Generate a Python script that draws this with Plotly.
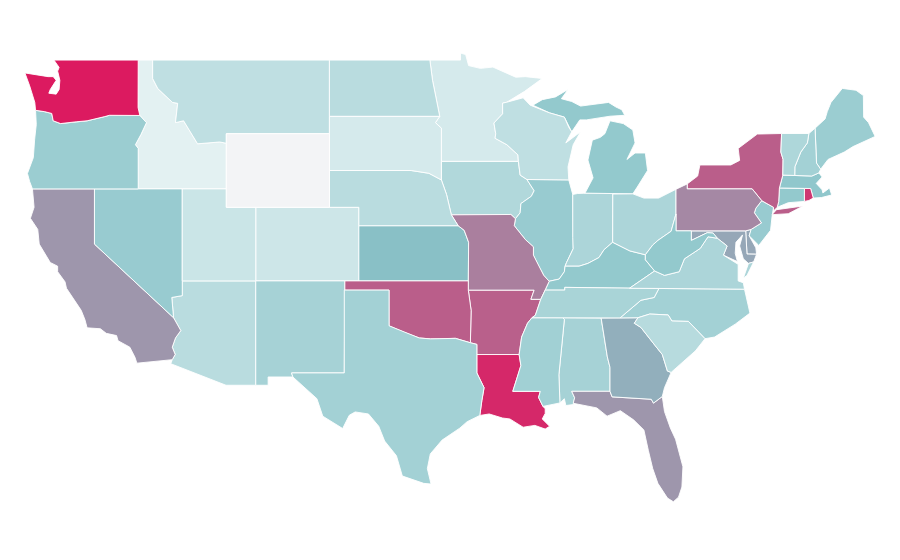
import plotly.graph_objects as go
from plotly.colors import sample_colorscale

states = ["AL","AR","AZ","CA","CO","CT","DC","DE","FL","GA","IA","ID","IL","IN","KS","KY","LA","MA","MD","ME",
          "MI","MN","MO","MS","MT","NC","ND","NE","NH","NJ","NM","NV","NY","OH","OK","OR","PA","RI","SC","SD",
          "TN","TX","UT","VA","VT","WA","WI","WV","WY"]
values = [29,75,22,56,15,36,50,50,56,47,25,7,34,27,41,36,95,37,50,33,
          36,12,64,31,20,30,22,22,30,34,29,34,76,27,76,33,61,90,23,12,
          28,30,16,27,26,100,20,36,0]

colorscale = [[0, "#f3f4f6"], [0.05, "#e8f4f5"], [0.4, "#88c3c8"], [1, "#dc1a60"]]

# plotly's own state map is fetched from a CDN, so simplified outlines (lon, lat) go in here
shapes = {
    "WA": [[(-124.72,48.3),(-123.15,48.1),(-122.8,48.1),(-122.6,47.9),(-123.0,47.4),(-123.1,47.2),(-122.6,47.15),(-122.4,47.4),(-122.35,47.9),(-122.5,48.4),(-122.4,48.6),(-122.75,49.0),(-117.03,49.0),(-117.04,46.42),(-116.92,45.99),(-118.98,46.0),(-119.3,45.93),(-120.5,45.7),(-121.2,45.65),(-122.3,45.55),(-122.8,45.7),(-122.9,46.1),(-123.4,46.2),(-124.0,46.27),(-124.05,46.7),(-124.15,47.0),(-124.4,47.6)]],
    "OR": [[(-124.0,46.27),(-123.4,46.2),(-122.9,46.1),(-122.8,45.7),(-122.3,45.55),(-121.2,45.65),(-120.5,45.7),(-119.3,45.93),(-118.98,46.0),(-116.92,45.99),(-116.47,45.6),(-116.85,44.95),(-117.22,44.4),(-117.03,44.2),(-117.03,42.0),(-124.21,42.0),(-124.4,42.4),(-124.55,42.84),(-124.15,43.7),(-124.06,44.7),(-123.95,45.5)]],
    "CA": [[(-124.21,42.0),(-120.0,42.0),(-120.0,39.0),(-114.63,35.0),(-114.14,34.3),(-114.5,33.9),(-114.72,33.4),(-114.52,33.0),(-114.72,32.72),(-117.12,32.53),(-117.25,32.85),(-117.6,33.4),(-118.4,33.75),(-118.5,34.03),(-119.2,34.15),(-119.6,34.4),(-120.5,34.45),(-120.65,34.9),(-120.9,35.4),(-121.9,36.6),(-122.0,36.95),(-122.5,37.5),(-122.5,37.8),(-123.0,38.0),(-123.75,39.0),(-123.85,39.8),(-124.35,40.4),(-124.1,41.0)]],
    "NV": [[(-120.0,42.0),(-114.04,42.0),(-114.04,36.2),(-114.75,36.1),(-114.63,35.0),(-120.0,39.0)]],
    "ID": [[(-117.03,49.0),(-116.05,49.0),(-116.05,48.0),(-115.7,47.45),(-114.7,46.7),(-114.35,46.65),(-114.5,45.6),(-113.95,45.7),(-113.45,45.05),(-113.0,44.45),(-111.5,44.55),(-111.05,44.48),(-111.05,42.0),(-117.03,42.0),(-117.03,44.2),(-117.22,44.4),(-116.85,44.95),(-116.47,45.6),(-116.92,45.99),(-117.04,46.42)]],
    "MT": [[(-116.05,49.0),(-104.05,49.0),(-104.05,45.0),(-111.05,45.0),(-111.05,44.48),(-111.5,44.55),(-113.0,44.45),(-113.45,45.05),(-113.95,45.7),(-114.5,45.6),(-114.35,46.65),(-114.7,46.7),(-115.7,47.45),(-116.05,48.0)]],
    "WY": [[(-111.05,45.0),(-104.05,45.0),(-104.05,41.0),(-111.05,41.0)]],
    "UT": [[(-114.04,42.0),(-111.05,42.0),(-111.05,41.0),(-109.05,41.0),(-109.05,37.0),(-114.04,37.0)]],
    "CO": [[(-109.05,41.0),(-102.05,41.0),(-102.05,37.0),(-109.05,37.0)]],
    "AZ": [[(-114.04,37.0),(-109.05,37.0),(-109.05,31.33),(-111.07,31.33),(-114.82,32.5),(-114.72,32.72),(-114.52,33.0),(-114.72,33.4),(-114.5,33.9),(-114.14,34.3),(-114.63,35.0),(-114.75,36.1),(-114.04,36.2)]],
    "NM": [[(-109.05,37.0),(-103.0,37.0),(-103.04,32.0),(-106.62,32.0),(-106.53,31.78),(-108.21,31.78),(-108.21,31.33),(-109.05,31.33)]],
    "ND": [[(-104.05,49.0),(-97.23,49.0),(-97.05,47.9),(-96.8,46.9),(-96.56,45.94),(-104.05,45.94)]],
    "SD": [[(-104.05,45.94),(-96.56,45.94),(-96.85,45.6),(-96.45,45.3),(-96.45,43.5),(-96.45,42.49),(-97.3,42.85),(-98.5,43.0),(-104.05,43.0)]],
    "NE": [[(-104.05,43.0),(-98.5,43.0),(-97.3,42.85),(-96.45,42.49),(-96.1,41.7),(-95.9,41.0),(-95.77,40.59),(-95.31,40.0),(-102.05,40.0),(-102.05,41.0),(-104.05,41.0)]],
    "KS": [[(-102.05,40.0),(-95.31,40.0),(-94.9,39.75),(-94.6,39.1),(-94.62,37.0),(-102.05,37.0)]],
    "OK": [[(-103.0,37.0),(-94.62,37.0),(-94.62,36.5),(-94.43,35.4),(-94.48,33.64),(-95.5,33.88),(-96.6,33.85),(-97.2,33.85),(-97.95,33.9),(-98.95,34.2),(-100.0,34.56),(-100.0,36.5),(-103.0,36.5)]],
    "TX": [[(-103.04,36.5),(-100.0,36.5),(-100.0,34.56),(-98.95,34.2),(-97.95,33.9),(-97.2,33.85),(-96.6,33.85),(-95.5,33.88),(-94.48,33.64),(-94.04,33.55),(-94.04,32.0),(-93.55,31.2),(-93.7,30.5),(-93.84,29.69),(-94.7,29.35),(-95.2,29.0),(-96.4,28.35),(-97.2,27.6),(-97.4,26.8),(-97.15,25.96),(-97.65,26.0),(-99.1,26.4),(-99.5,27.5),(-100.3,28.3),(-100.7,29.1),(-101.4,29.77),(-102.3,29.88),(-102.7,29.7),(-103.15,28.98),(-104.5,29.65),(-104.9,30.6),(-106.53,31.78),(-106.62,32.0),(-103.04,32.0)]],
    "MN": [[(-97.23,49.0),(-95.15,49.0),(-95.15,49.38),(-94.8,49.3),(-94.6,48.7),(-93.8,48.55),(-92.95,48.62),(-91.4,48.07),(-90.75,48.1),(-89.6,48.0),(-90.8,47.3),(-92.01,46.71),(-92.29,46.66),(-92.29,46.08),(-92.88,45.58),(-92.76,45.0),(-92.8,44.75),(-92.0,44.4),(-91.25,43.85),(-91.22,43.5),(-96.45,43.5),(-96.45,45.3),(-96.85,45.6),(-96.56,45.94),(-96.8,46.9),(-97.05,47.9)]],
    "IA": [[(-96.45,43.5),(-91.22,43.5),(-91.1,42.75),(-90.64,42.51),(-90.15,41.9),(-90.34,41.6),(-91.05,41.2),(-91.1,40.7),(-91.42,40.38),(-91.73,40.61),(-95.77,40.59),(-95.9,41.0),(-96.1,41.7),(-96.45,42.49)]],
    "MO": [[(-95.77,40.59),(-91.73,40.61),(-91.42,40.38),(-91.5,40.0),(-90.75,39.25),(-90.2,38.85),(-90.2,38.4),(-89.9,37.9),(-89.5,37.3),(-89.13,36.98),(-89.4,36.5),(-89.7,36.0),(-90.37,36.0),(-90.15,36.5),(-94.62,36.5),(-94.62,37.0),(-94.6,39.1),(-94.9,39.75),(-95.31,40.0)]],
    "AR": [[(-94.62,36.5),(-90.15,36.5),(-90.37,36.0),(-89.7,36.0),(-90.07,35.13),(-90.3,35.0),(-90.6,34.7),(-91.0,33.95),(-91.17,33.0),(-94.04,33.0),(-94.04,33.55),(-94.48,33.64),(-94.43,35.4)]],
    "LA": [[(-94.04,33.0),(-91.17,33.0),(-91.05,32.4),(-91.6,31.0),(-89.73,31.0),(-89.85,30.67),(-89.55,30.18),(-89.4,30.05),(-89.4,29.8),(-89.6,29.5),(-89.1,29.1),(-89.4,28.95),(-90.1,29.15),(-90.9,29.05),(-91.8,29.5),(-92.3,29.55),(-93.2,29.77),(-93.84,29.69),(-93.7,30.5),(-93.55,31.2),(-94.04,32.0)]],
    "WI": [[(-92.01,46.71),(-90.9,46.95),(-90.42,46.55),(-89.1,46.13),(-88.1,45.9),(-87.8,45.35),(-87.6,45.1),(-88.0,44.5),(-87.0,45.1),(-87.5,44.4),(-87.85,43.2),(-87.8,42.49),(-90.64,42.51),(-91.1,42.75),(-91.22,43.5),(-91.25,43.85),(-92.0,44.4),(-92.8,44.75),(-92.76,45.0),(-92.88,45.58),(-92.29,46.08),(-92.29,46.66)]],
    "IL": [[(-90.64,42.51),(-87.8,42.49),(-87.53,41.7),(-87.53,39.35),(-87.5,38.75),(-87.95,38.0),(-88.05,37.8),(-88.1,37.5),(-88.45,37.1),(-89.13,36.98),(-89.5,37.3),(-89.9,37.9),(-90.2,38.4),(-90.2,38.85),(-90.75,39.25),(-91.5,40.0),(-91.42,40.38),(-91.1,40.7),(-91.05,41.2),(-90.34,41.6),(-90.15,41.9)]],
    "IN": [[(-87.53,41.7),(-87.2,41.75),(-86.82,41.76),(-84.81,41.76),(-84.82,39.1),(-85.4,38.7),(-85.75,38.27),(-86.5,37.95),(-87.1,37.8),(-88.05,37.8),(-87.95,38.0),(-87.5,38.75),(-87.53,39.35)]],
    "OH": [[(-84.81,41.72),(-83.45,41.73),(-82.7,41.5),(-81.7,41.5),(-80.52,41.98),(-80.52,40.64),(-80.85,39.7),(-81.75,39.2),(-82.1,38.95),(-82.6,38.42),(-83.65,38.63),(-84.25,38.85),(-84.82,39.1)]],
    "MI": [[(-86.7,41.77),(-84.81,41.76),(-83.45,41.73),(-83.15,42.1),(-82.45,43.0),(-82.6,43.95),(-83.3,43.95),(-83.85,43.6),(-83.3,44.5),(-83.45,45.2),(-84.1,45.55),(-85.0,45.7),(-85.35,45.0),(-85.66,44.8),(-86.2,44.65),(-86.5,43.57),(-86.15,42.6)],
           [(-90.24,46.55),(-89.1,46.13),(-88.1,45.9),(-87.6,45.1),(-87.05,45.75),(-86.6,45.75),(-85.0,45.95),(-84.0,46.0),(-84.2,46.3),(-84.6,46.45),(-85.1,46.7),(-85.9,46.6),(-87.0,46.5),(-87.6,46.75),(-88.3,46.9),(-87.85,47.4),(-88.7,47.0),(-89.6,46.85)]],
    "KY": [[(-89.13,36.98),(-88.45,37.1),(-88.1,37.5),(-88.05,37.8),(-87.1,37.8),(-86.5,37.95),(-85.75,38.27),(-85.4,38.7),(-84.82,39.1),(-84.25,38.85),(-83.65,38.63),(-82.6,38.42),(-82.6,38.15),(-81.97,37.54),(-83.68,36.6),(-88.07,36.65),(-88.07,36.5),(-89.4,36.5)]],
    "TN": [[(-89.4,36.5),(-88.07,36.5),(-88.07,36.65),(-83.68,36.6),(-81.68,36.59),(-82.0,36.1),(-82.9,35.95),(-84.32,34.99),(-90.3,35.0),(-90.07,35.13),(-89.7,36.0)]],
    "MS": [[(-90.3,35.0),(-88.2,35.0),(-88.1,34.9),(-88.47,31.9),(-88.4,30.37),(-89.55,30.18),(-89.85,30.67),(-89.73,31.0),(-91.6,31.0),(-91.05,32.4),(-91.17,33.0),(-91.0,33.95),(-90.6,34.7)]],
    "AL": [[(-88.2,35.0),(-85.6,34.98),(-85.18,32.87),(-85.0,32.3),(-85.0,31.0),(-87.6,31.0),(-87.4,30.65),(-87.5,30.28),(-88.0,30.23),(-88.1,30.6),(-88.4,30.37),(-88.47,31.9),(-88.1,34.9)]],
    "GA": [[(-85.6,34.98),(-83.1,35.0),(-83.35,34.7),(-82.9,34.47),(-81.95,33.5),(-81.45,33.0),(-81.1,32.1),(-80.85,32.03),(-81.3,31.2),(-81.45,30.72),(-82.05,30.36),(-82.2,30.57),(-84.86,30.7),(-85.0,31.0),(-85.0,32.3),(-85.18,32.87)]],
    "FL": [[(-87.6,31.0),(-85.0,31.0),(-84.86,30.7),(-82.2,30.57),(-82.05,30.36),(-81.45,30.72),(-81.3,29.9),(-80.9,29.0),(-80.55,28.4),(-80.05,26.9),(-80.12,25.8),(-80.35,25.25),(-80.7,25.0),(-81.1,25.2),(-81.75,26.0),(-82.1,26.8),(-82.4,27.8),(-82.7,28.9),(-83.4,29.45),(-84.3,29.95),(-85.2,29.65),(-85.9,30.1),(-87.5,30.35),(-87.4,30.65)]],
    "SC": [[(-83.1,35.0),(-82.3,35.2),(-81.05,35.15),(-80.8,34.82),(-79.68,34.8),(-78.55,33.86),(-79.2,33.2),(-79.9,32.7),(-80.85,32.03),(-81.1,32.1),(-81.45,33.0),(-81.95,33.5),(-82.9,34.47),(-83.35,34.7)]],
    "NC": [[(-84.32,34.99),(-82.9,35.95),(-82.0,36.1),(-81.68,36.59),(-75.87,36.55),(-75.5,35.25),(-76.5,34.65),(-77.9,33.95),(-78.55,33.86),(-79.68,34.8),(-80.8,34.82),(-81.05,35.15),(-82.3,35.2),(-83.1,35.0)]],
    "VA": [[(-83.68,36.6),(-81.97,37.54),(-81.3,37.3),(-80.3,37.5),(-79.95,38.2),(-78.87,38.77),(-78.35,39.4),(-77.72,39.32),(-77.05,38.9),(-77.3,38.4),(-76.3,37.9),(-76.3,37.0),(-75.95,36.9),(-75.87,36.55),(-81.68,36.59)],
           [(-75.95,37.15),(-75.6,37.95),(-75.25,38.03),(-75.7,37.3)]],
    "WV": [[(-82.6,38.42),(-82.1,38.95),(-81.75,39.2),(-80.85,39.7),(-80.52,40.64),(-80.52,39.72),(-79.48,39.72),(-79.48,39.2),(-78.4,39.62),(-78.0,39.6),(-77.72,39.32),(-78.35,39.4),(-78.87,38.77),(-79.95,38.2),(-80.3,37.5),(-81.3,37.3),(-81.97,37.54),(-82.6,38.15)]],
    "MD": [[(-79.48,39.72),(-75.79,39.72),(-75.7,38.46),(-75.05,38.45),(-75.25,38.03),(-75.6,37.95),(-75.95,38.2),(-76.2,38.9),(-76.0,39.5),(-76.45,39.1),(-76.5,38.5),(-76.35,38.05),(-77.3,38.4),(-77.05,38.9),(-77.72,39.32),(-78.0,39.6),(-78.4,39.62),(-79.48,39.2)]],
    "DE": [[(-75.79,39.72),(-75.42,39.8),(-75.55,39.45),(-75.1,38.8),(-75.05,38.45),(-75.7,38.46)]],
    "DC": [[(-77.12,38.93),(-77.04,39.0),(-76.91,38.89),(-77.04,38.79)]],
    "PA": [[(-80.52,41.98),(-79.76,42.27),(-79.76,42.0),(-75.35,42.0),(-74.7,41.36),(-75.1,40.95),(-75.2,40.7),(-74.72,40.15),(-75.42,39.8),(-75.79,39.72),(-80.52,39.72)]],
    "NY": [[(-79.76,42.27),(-79.05,42.7),(-78.9,43.3),(-76.8,43.3),(-76.2,43.55),(-76.3,44.2),(-75.0,44.98),(-73.35,45.01),(-73.4,44.0),(-73.25,43.6),(-73.27,42.75),(-73.5,42.05),(-73.55,41.3),(-73.65,41.0),(-73.9,40.8),(-73.9,41.0),(-74.7,41.36),(-75.35,42.0),(-79.76,42.0)],
           [(-74.0,40.6),(-72.9,40.65),(-71.9,41.07),(-72.6,41.0),(-73.7,40.87)]],
    "NJ": [[(-74.7,41.36),(-73.9,41.0),(-74.0,40.5),(-74.1,39.75),(-74.9,38.93),(-75.55,39.45),(-75.42,39.8),(-74.72,40.15),(-75.2,40.7),(-75.1,40.95)]],
    "CT": [[(-73.5,42.05),(-71.8,42.02),(-71.8,41.32),(-72.9,41.25),(-73.65,41.0),(-73.55,41.3)]],
    "RI": [[(-71.8,42.02),(-71.38,42.02),(-71.2,41.5),(-71.5,41.37),(-71.8,41.32)]],
    "MA": [[(-73.5,42.05),(-73.27,42.75),(-71.3,42.7),(-70.82,42.87),(-70.6,42.65),(-71.0,42.3),(-70.6,41.95),(-70.55,41.78),(-70.1,42.05),(-69.95,41.67),(-70.65,41.53),(-71.2,41.5),(-71.38,42.02),(-71.8,42.02)]],
    "VT": [[(-73.35,45.01),(-71.5,45.01),(-71.6,44.5),(-72.05,44.0),(-72.45,43.2),(-72.46,42.73),(-73.27,42.75),(-73.25,43.6),(-73.4,44.0)]],
    "NH": [[(-71.5,45.01),(-71.08,45.3),(-70.98,43.4),(-70.7,43.07),(-70.82,42.87),(-71.3,42.7),(-72.46,42.73),(-72.45,43.2),(-72.05,44.0),(-71.6,44.5)]],
    "ME": [[(-71.08,45.3),(-70.4,45.8),(-70.25,46.2),(-70.0,46.7),(-69.23,47.46),(-68.3,47.36),(-67.8,47.07),(-67.78,45.9),(-67.45,45.6),(-67.0,44.85),(-68.5,44.3),(-69.1,44.0),(-70.2,43.6),(-70.7,43.07),(-70.98,43.4)]],
}

fig = go.Figure()
for code, value in zip(states, values):
    lon, lat = [], []
    for ring in shapes[code]:
        closed = ring + ring[:1]
        lon += [p[0] for p in closed] + [None]
        lat += [p[1] for p in closed] + [None]
    # the reference is a plain lon/lat plane, plotly's geo subplot can't stretch lat like that
    fig.add_trace(go.Scatter(
        x=lon[:-1],
        y=lat[:-1],
        mode="lines",
        fill="toself",
        fillcolor=sample_colorscale(colorscale, value / 100)[0],
        line=dict(color="#ffffff", width=0.9),
        name=code,
        text=f"{code}: {value}",
        hoverinfo="text",
        hoveron="fills",
        showlegend=False,
    ))

# ranges allow for the 8px body margin of the page
fig.update_xaxes(visible=False, range=[-125.87, -64.77])
fig.update_yaxes(visible=False, range=[21.40, 51.83])
fig.update_layout(
    width=900,
    height=560,
    margin=dict(l=0, r=0, t=0, b=0),
    paper_bgcolor="#ffffff",
    plot_bgcolor="#ffffff",
)
fig.write_html("out.html")
